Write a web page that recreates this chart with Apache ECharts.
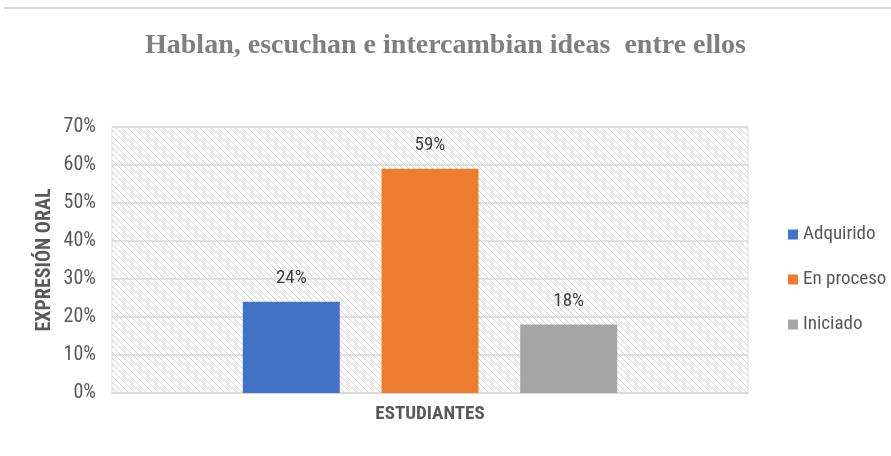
<!DOCTYPE html>
<html><head><meta charset="utf-8">
<script src="https://cdn.jsdelivr.net/npm/echarts@6/dist/echarts.min.js"></script>
<style>html,body{margin:0;padding:0;background:#fff}#c{width:891px;height:456px}</style>
</head><body><div id="c"></div>
<script>
const categories = ['ESTUDIANTES'];
const seriesNames = ['Adquirido', 'En proceso', 'Iniciado'];
const seriesValues = [24, 59, 18];
const seriesColors = ['#4472c4', '#ed7d31', '#a5a5a5'];
const yTicks = [0, 10, 20, 30, 40, 50, 60, 70];

const pc = document.createElement('canvas');
pc.width = 6; pc.height = 6;
const ctx = pc.getContext('2d');
ctx.fillStyle = '#ffffff'; ctx.fillRect(0,0,6,6);
ctx.strokeStyle = '#d0d0d0'; ctx.lineWidth = 0.9;
ctx.beginPath();
ctx.moveTo(0,0); ctx.lineTo(6,6);
ctx.moveTo(-3,3); ctx.lineTo(3,9);
ctx.moveTo(3,-3); ctx.lineTo(9,3);
ctx.stroke();

const narrow = "'Liberation Sans Narrow', 'Roboto Condensed', 'Liberation Sans', sans-serif";
const chart = echarts.init(document.getElementById('c'));
chart.setOption({
  animation: false,
  title: {
    text: 'Hablan, escuchan e intercambian ideas  entre ellos',
    left: 'center', top: 27,
    textStyle: { fontFamily: "'Liberation Serif', serif", fontWeight: 'bold', fontSize: 28, color: '#7f7f7f' }
  },
  graphic: [{ type: 'line', shape: { x1: 4, y1: 8, x2: 891, y2: 8 }, style: { stroke: '#d9d9d9', lineWidth: 2 } }],
  legend: {
    orient: 'vertical', left: 783, top: 220, itemGap: 26,
    itemWidth: 10, itemHeight: 10, icon: 'rect',
    textStyle: { fontFamily: narrow, fontSize: 19, color: '#595959' },
    data: seriesNames
  },
  grid: {
    left: 112, right: 143, top: 127, bottom: 63, show: true,
    backgroundColor: { image: pc, repeat: 'repeat' },
    borderColor: '#d9d9d9', borderWidth: 1
  },
  xAxis: {
    type: 'category', data: categories,
    axisLine: { lineStyle: { color: '#d9d9d9' } }, axisTick: { show: false },
    axisLabel: { show: false },
    name: 'ESTUDIANTES', nameLocation: 'middle', nameGap: 12,
    nameTextStyle: { fontFamily: narrow, fontSize: 19, fontWeight: 'bold', color: '#595959' }
  },
  yAxis: {
    type: 'value', min: 0, max: 70, interval: 10,
    axisLabel: { formatter: v => v + '%', fontFamily: narrow, fontSize: 20, color: '#595959', margin: 16 },
    splitLine: { lineStyle: { color: '#d9d9d9', width: 1.5 } },
    axisLine: { show: false }, axisTick: { show: false },
    name: 'EXPRESIÓN ORAL', nameLocation: 'middle', nameGap: 57, nameRotate: 90,
    nameMoveOverlap: false,
    nameTextStyle: { fontFamily: narrow, fontSize: 20, fontWeight: 'bold', color: '#595959' }
  },
  series: seriesNames.map((n, i) => ({
    name: n, type: 'bar', data: [seriesValues[i]],
    barWidth: 97, barGap: '43%',
    itemStyle: { color: seriesColors[i] },
    label: { show: true, position: 'top', distance: 14, formatter: p => p.value + '%',
      fontFamily: narrow, fontSize: 19, color: '#404040' }
  })),
  color: seriesColors
});
</script></body></html>
